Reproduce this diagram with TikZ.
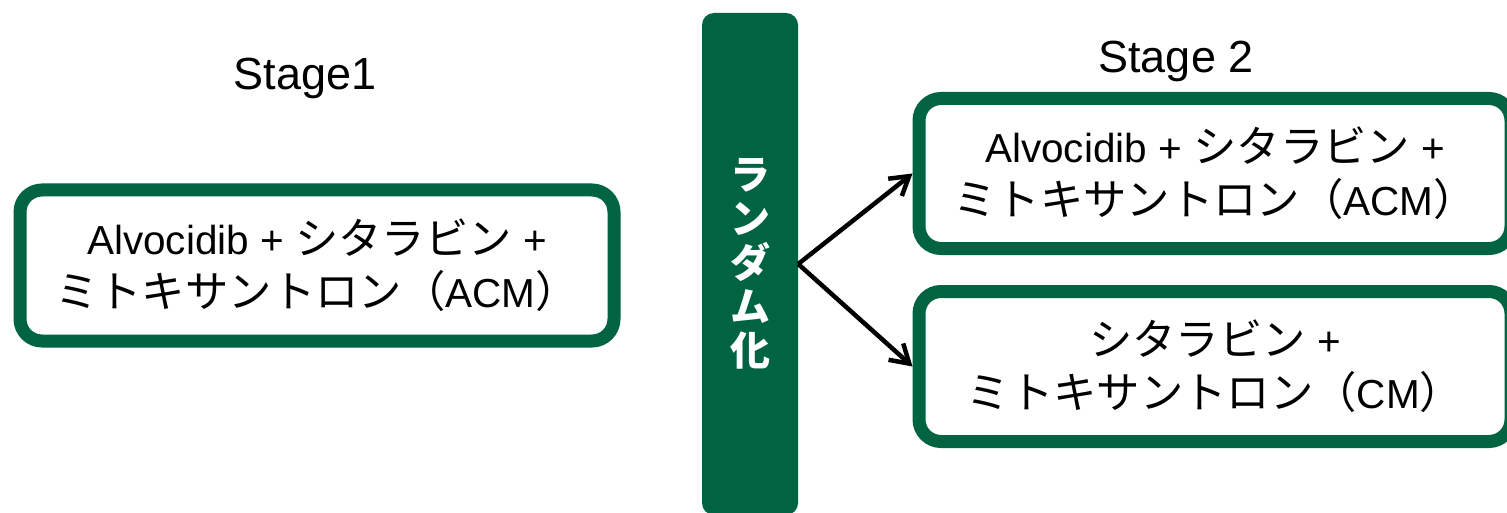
\documentclass[tikz,border=0pt]{standalone}
\usepackage{fontspec}
\setmainfont{Liberation Sans}
\newfontfamily\cjk[Scale=1.07]{Noto Sans CJK JP}
\newfontfamily\cjkbar{Noto Sans CJK JP}
\usetikzlibrary{arrows.meta}
\definecolor{dkgreen}{RGB}{0,99,65}
\newcommand\jp[1]{{\cjk #1}}
\begin{document}
\begin{tikzpicture}[x=1pt,y=-1pt,
  drugbox/.style={draw=dkgreen, line width=13pt, rounded corners=22pt, fill=white,
    minimum width=594pt, minimum height=151pt, inner sep=0pt, align=center,
    font=\fontsize{40.5}{53}\selectfont},
  stagelabel/.style={font=\fontsize{45}{54}\selectfont, anchor=base, inner sep=0pt},
  barbox/.style={fill=dkgreen, rounded corners=12pt, minimum width=96pt,
    minimum height=502pt, inner sep=0pt, text=white, align=center,
    font=\cjkbar\bfseries\fontsize{40}{44}\selectfont},
  arr/.style={line width=4.5pt, -{Straight Barb[length=18pt,width=22pt]}}]
\useasboundingbox (0,0) rectangle (1507,513);
\clip (0,0) rectangle (1507,513);
\fill[white] (0,0) rectangle (1507,513);

\node[stagelabel] (s1) at (305,90) {Stage1};
\node[stagelabel] (s2) at (1176,73) {Stage 2};

\node[drugbox] (acm1) at (317,265.5)
  {Alvocidib + \jp{シタラビン} +\\\jp{ミトキサントロン（}ACM\jp{）}};

\node[barbox] (bar) at (750,264) {ラ\\ン\\ダ\\ム\\化};

\node[drugbox, minimum width=592pt, minimum height=150pt] (acm2) at (1215,173.5)
  {Alvocidib + \jp{シタラビン} +\\\jp{ミトキサントロン（}ACM\jp{）}};
\node[drugbox, minimum width=592pt, minimum height=150pt] (cm) at (1215,366.5)
  {\jp{シタラビン} +\\\jp{ミトキサントロン（}CM\jp{）}};

\draw[arr] (bar.east) -- (acm2.west);
\draw[arr] (bar.east) -- (cm.west);
\end{tikzpicture}
\end{document}
